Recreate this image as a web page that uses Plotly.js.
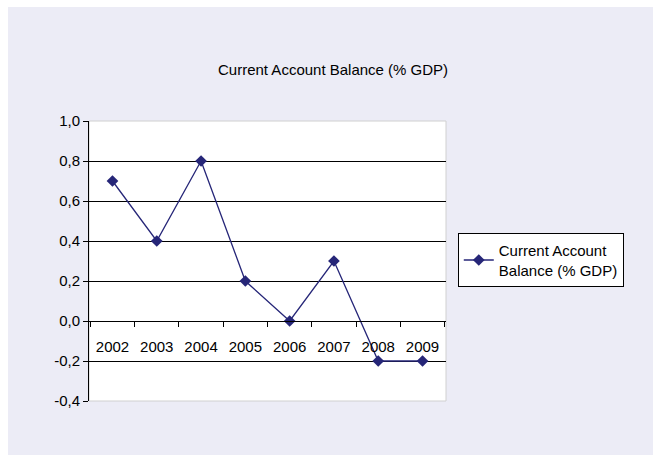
<!DOCTYPE html>
<html>
<head>
<meta charset="utf-8">
<script src="https://cdn.plot.ly/plotly-3.0.1.min.js"></script>
<style>
html,body{margin:0;padding:0;background:#ffffff;}
#chart{position:absolute;left:8px;top:7px;width:645px;height:448px;}
</style>
</head>
<body>
<div id="chart"></div>
<script>
const years = ["2002","2003","2004","2005","2006","2007","2008","2009"];
const balance = [0.7, 0.4, 0.8, 0.2, 0.0, 0.3, -0.2, -0.2];
const seriesName = "Current Account<br>Balance (% GDP)";
const chartTitle = "Current Account Balance (% GDP)";
const yTicks = [-0.4, -0.2, 0.0, 0.2, 0.4, 0.6, 0.8, 1.0];
const yTickLabels = ["-0,4", "-0,2", "0,0", "0,2", "0,4", "0,6", "0,8", "1,0"];

const yMin = -0.4, yMax = 1.0;
const zeroPos = (0 - yMin) / (yMax - yMin);

const trace = {
  x: years,
  y: balance,
  type: 'scatter',
  mode: 'lines+markers',
  name: seriesName,
  line: {color: '#262678', width: 1.3},
  marker: {symbol: 'diamond', size: 9, color: '#262678'},
  showlegend: true
};

const layout = {
  width: 645,
  height: 448,
  paper_bgcolor: '#ececf6',
  plot_bgcolor: '#ffffff',
  separators: ',.',
  font: {family: 'Liberation Sans, Arial, sans-serif', size: 15, color: '#000000'},
  title: {text: chartTitle, x: 0.504, xanchor: 'center', y: 0.86, yanchor: 'middle',
          xref: 'container', font: {size: 15, color: '#000000'}},
  margin: {l: 81, r: 207, t: 114, b: 54, pad: 0},
  xaxis: {
    type: 'category',
    anchor: 'free',
    position: zeroPos,
    showline: true, linecolor: '#000000', linewidth: 1,
    ticks: 'outside', ticklen: 5, tickcolor: '#000000', tickwidth: 1,
    tickson: 'boundaries',
    showgrid: false, zeroline: false,
    ticklabelstandoff: 12,
    tickfont: {size: 15},
    fixedrange: true
  },
  yaxis: {
    range: [yMin, yMax],
    tickmode: 'array',
    tickvals: yTicks,
    ticktext: yTickLabels,
    showline: true, linecolor: '#000000', linewidth: 1,
    ticks: 'outside', ticklen: 5, tickcolor: '#000000',
    showgrid: true, gridcolor: '#000000', gridwidth: 1,
    zeroline: false,
    tickfont: {size: 15},
    fixedrange: true
  },
  shapes: [
    {type: 'rect', xref: 'paper', yref: 'paper', x0: 0, x1: 1, y0: 0, y1: 1,
     line: {color: '#d0d0d0', width: 1}, fillcolor: 'rgba(0,0,0,0)', layer: 'below'}
  ],
  legend: {
    x: 1.033, xanchor: 'left', y: 0.6, yanchor: 'top',
    bgcolor: '#ffffff', bordercolor: '#000000', borderwidth: 1,
    font: {size: 15},
    itemwidth: 30
  }
};

Plotly.newPlot('chart', [trace], layout, {displayModeBar: false, staticPlot: true});
</script>
</body>
</html>
